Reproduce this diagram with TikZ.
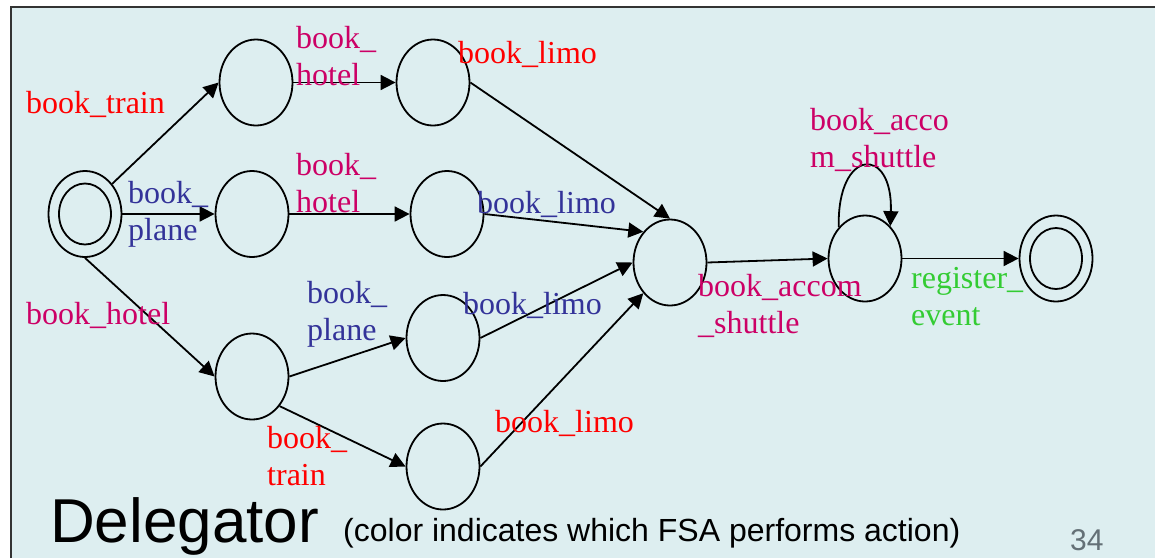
\documentclass[tikz,border=0pt]{standalone}
\usepackage{fontspec}
\setmainfont{Liberation Serif}
\setsansfont{Liberation Sans}
\usetikzlibrary{shapes.geometric,arrows.meta}
\definecolor{bg}{RGB}{221,238,240}
\definecolor{lred}{RGB}{255,0,0}
\definecolor{lmag}{RGB}{204,0,102}
\definecolor{lblue}{RGB}{51,51,153}
\definecolor{lgreen}{RGB}{51,204,51}
\definecolor{pgnum}{RGB}{100,112,118}
\begin{document}
\begin{tikzpicture}[x=1pt,y=-1pt,
 state/.style={ellipse,draw,line width=1.8pt,minimum width=73pt,minimum height=86pt,inner sep=0pt},
 innerst/.style={ellipse,draw,line width=1.8pt,minimum width=52pt,minimum height=61pt,inner sep=0pt},
 edge/.style={draw,line width=1.8pt,-{Triangle[length=15pt,width=15pt]}},
 lab/.style={anchor=base west,inner sep=0pt,font=\fontsize{32}{37}\selectfont,align=left},
]
\useasboundingbox (0,0) rectangle (1155,558);
\fill[white] (0,0) rectangle (1155,558);
\fill[bg] (11,7) rectangle (1155,558);
\draw[line width=2pt, black!80] (11,558) -- (11,7) -- (1155,7);

% states
\node[state] (start) at (85,214) {};
\node[innerst] (starti) at (85,214) {};
\node[state] (A) at (256,82.5) {};
\node[state] (B) at (252,214) {};
\node[state] (C) at (433,82.5) {};
\node[state] (D) at (447,214) {};
\node[state] (M) at (670,262.5) {};
\node[state] (E) at (252,376.5) {};
\node[state] (F) at (443,338) {};
\node[state] (G) at (443,466.5) {};
\node[state] (S) at (865,258.5) {};
\node[state] (fin) at (1056,258.5) {};
\node[innerst] (fini) at (1056,258.5) {};

% edges
\draw[edge] (start.48) -- (A.west);
\draw[edge] (start.east) -- (B.west);
\draw[edge] (start.south) -- (E.west);
\draw[edge] (A.east) -- (C.west);
\draw[edge] (B.east) -- (D.west);
\draw[edge] (C.east) -- (M.north);
\draw[edge] (D.east) -- (M.131);
\draw[edge] (F.east) -- (M.west);
\draw[edge] (G.east) -- (M.229);
\draw[edge] (E.east) -- (F.west);
\draw[edge] (E.-47) -- (G.west);
\draw[edge] (M.east) -- (S.west);
\draw[edge] (S.130) .. controls +(-2,-80) and +(3,-81) .. (S.52);
\draw[edge] (S.east) -- (fin.west);

% labels (base = last line's baseline)
\node[lab,text=lred] (l1) at (26,113) {book\_train};
\node[lab,text=lmag] (l2) at (296,85) {book\_\\hotel};
\node[lab,text=lmag] (l3) at (296,212) {book\_\\hotel};
\node[lab,text=lblue] (l4) at (128,240) {book\_\\plane};
\node[lab,text=lred] (l5) at (458,63) {book\_limo};
\node[lab,text=lblue] (l6) at (477,213) {book\_limo};
\node[lab,text=lblue] (l7) at (463,314) {book\_limo};
\node[lab,text=lred] (l8) at (495,432) {book\_limo};
\node[lab,text=lmag] (l9) at (26,324) {book\_hotel};
\node[lab,text=lblue] (l10) at (307,340) {book\_\\plane};
\node[lab,text=lred] (l11) at (267,485) {book\_\\train};
\node[lab,text=lmag] (l12) at (698,333) {book\_accom\\\_shuttle};
\node[lab,text=lmag] (l13) at (810,167) {book\_acco\\m\_shuttle};
\node[lab,text=lgreen] (l14) at (911,325) {register\_\\event};

% caption
\node[anchor=base west,inner sep=0pt,font=\sffamily\fontsize{62}{70}\selectfont] (title) at (50,542) {Delegator};
\node[anchor=base west,inner sep=0pt,font=\sffamily\fontsize{32}{37}\selectfont] (sub) at (343,541) {(color indicates which FSA performs action)};
\node[anchor=base west,inner sep=0pt,text=pgnum,font=\sffamily\fontsize{30}{36}\selectfont] (pg) at (1070,550) {34};
\end{tikzpicture}
\end{document}
